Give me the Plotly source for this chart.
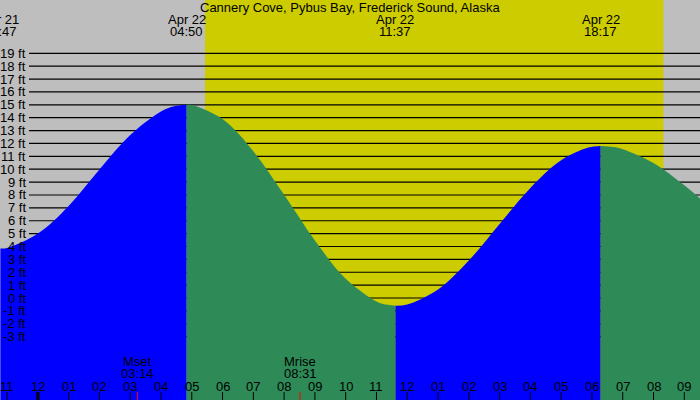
import plotly.graph_objects as go

# tide heights, hours counted from midnight Apr 22 (negative = Apr 21)
tide_hours = [-1.217, -1, 0, 1, 2, 3, 4, 4.433, 4.833,
              5, 6, 7, 8, 9, 10, 11, 11.217, 11.617,
              12, 13, 14, 15, 16, 17, 17.883, 18.283,
              18.683, 19, 20, 21, 22]
tide_ft = [3.85, 3.89, 5.0, 7.15, 9.98, 12.65, 14.48, 14.88, 15.0,
           14.98, 13.89, 11.39, 8.01, 4.46, 1.49, -0.28, -0.47, -0.6,
           -0.5, 0.67, 2.91, 5.75, 8.55, 10.70, 11.69, 11.8,
           11.73, 11.56, 10.49, 8.75, 6.70]

# high / low tide times
extreme_hours = [-1.217, 4.833, 11.617, 18.283]
extreme_dates = ["Apr 21", "Apr 22", "Apr 22", "Apr 22"]
extreme_times = ["22:47", "04:50", "11:37", "18:17"]

# hour axis
hour_ticks = list(range(-1, 22))
hour_labels = ["11", "12", "01", "02", "03", "04", "05", "06", "07", "08", "09", "10",
               "11", "12", "01", "02", "03", "04", "05", "06", "07", "08", "09"]

# moon set / rise
moon_hours = [3.233, 8.517]
moon_names = ["Mset", "Mrise"]
moon_times = ["03:14", "08:31"]

# daylight
sunrise, sunset = 5.43, 20.32

ft_levels = list(range(-3, 20))

x_range = [-1.23, 21.51]
y_range = [-7.92, 23.14]

GRAY = "#bebebe"
YELLOW = "#cccc00"
BLUE = "#0000ff"
GREEN = "#2e8b57"
FONT = "Liberation Sans"


def xpaper(h):
    # annotations off the axis range get hidden, so place them in paper units
    return (h - x_range[0]) / (x_range[1] - x_range[0])


fig = go.Figure()

# split the curve at each extreme: rising = blue, falling = green
cuts = [tide_hours.index(h) for h in extreme_hours] + [len(tide_hours) - 1]
for a, b in zip(cuts[:-1], cuts[1:]):
    xs = tide_hours[a:b + 1]
    ys = tide_ft[a:b + 1]
    col = BLUE if ys[-1] > ys[0] else GREEN
    fig.add_trace(go.Scatter(x=[xs[0], xs[-1]], y=[y_range[0], y_range[0]],
                             mode="lines", line=dict(width=0), hoverinfo="skip"))
    fig.add_trace(go.Scatter(x=xs, y=ys, mode="lines", fill="tonexty",
                             fillcolor=col, line=dict(width=0, color=col, shape="spline"),
                             hoverinfo="skip"))

shapes = [dict(type="rect", xref="x", yref="paper", x0=sunrise, x1=sunset, y0=0, y1=1,
               fillcolor=YELLOW, line_width=0, layer="below")]
for v in ft_levels:
    shapes.append(dict(type="line", xref="paper", yref="y", x0=29 / 700, x1=1, y0=v, y1=v,
                       line=dict(color="black", width=1.2), layer="below"))
for h in hour_ticks:
    shapes.append(dict(type="line", xref="x", yref="paper", x0=h, x1=h, y0=0, y1=8 / 400,
                       line=dict(color="black", width=3 if h == 0 else 1)))
for h in moon_hours:
    shapes.append(dict(type="line", xref="x", yref="paper", x0=h, x1=h, y0=0, y1=8 / 400,
                       line=dict(color="red", width=1)))

ann = [dict(text="Cannery Cove, Pybus Bay, Frederick Sound, Alaska", xref="paper", yref="paper",
            x=0.5, y=1 - 7.5 / 400, xanchor="center", yanchor="middle", showarrow=False)]
for v in ft_levels:
    ann.append(dict(text=f"{v} ft", xref="paper", yref="y", x=28 / 700, y=v,
                    xanchor="right", yanchor="middle", showarrow=False))
for h, d, t in zip(extreme_hours, extreme_dates, extreme_times):
    ann.append(dict(text=d, xref="paper", yref="paper", x=xpaper(h), y=1 - 19.5 / 400,
                    xanchor="center", yanchor="middle", showarrow=False))
    ann.append(dict(text=t, xref="paper", yref="paper", x=xpaper(h), y=1 - 31.5 / 400,
                    xanchor="center", yanchor="middle", showarrow=False))
for h, lab in zip(hour_ticks, hour_labels):
    ann.append(dict(text=lab, xref="paper", yref="paper", x=xpaper(h), y=14 / 400,
                    xanchor="center", yanchor="middle", showarrow=False))
for h, n, t in zip(moon_hours, moon_names, moon_times):
    ann.append(dict(text=n, xref="x", yref="paper", x=h, y=39 / 400,
                    xanchor="center", yanchor="middle", showarrow=False))
    ann.append(dict(text=t, xref="x", yref="paper", x=h, y=27 / 400,
                    xanchor="center", yanchor="middle", showarrow=False))

fig.update_layout(
    width=700, height=400, margin=dict(l=0, r=0, t=0, b=0),
    paper_bgcolor=GRAY, plot_bgcolor=GRAY, showlegend=False,
    font=dict(family=FONT, size=13, color="black"),
    shapes=shapes, annotations=ann,
)
fig.update_xaxes(range=x_range, visible=False, fixedrange=True)
fig.update_yaxes(range=y_range, visible=False, fixedrange=True)

fig.write_html("out.html", config={"displayModeBar": False},
               post_script="document.body.style.margin='0';")
